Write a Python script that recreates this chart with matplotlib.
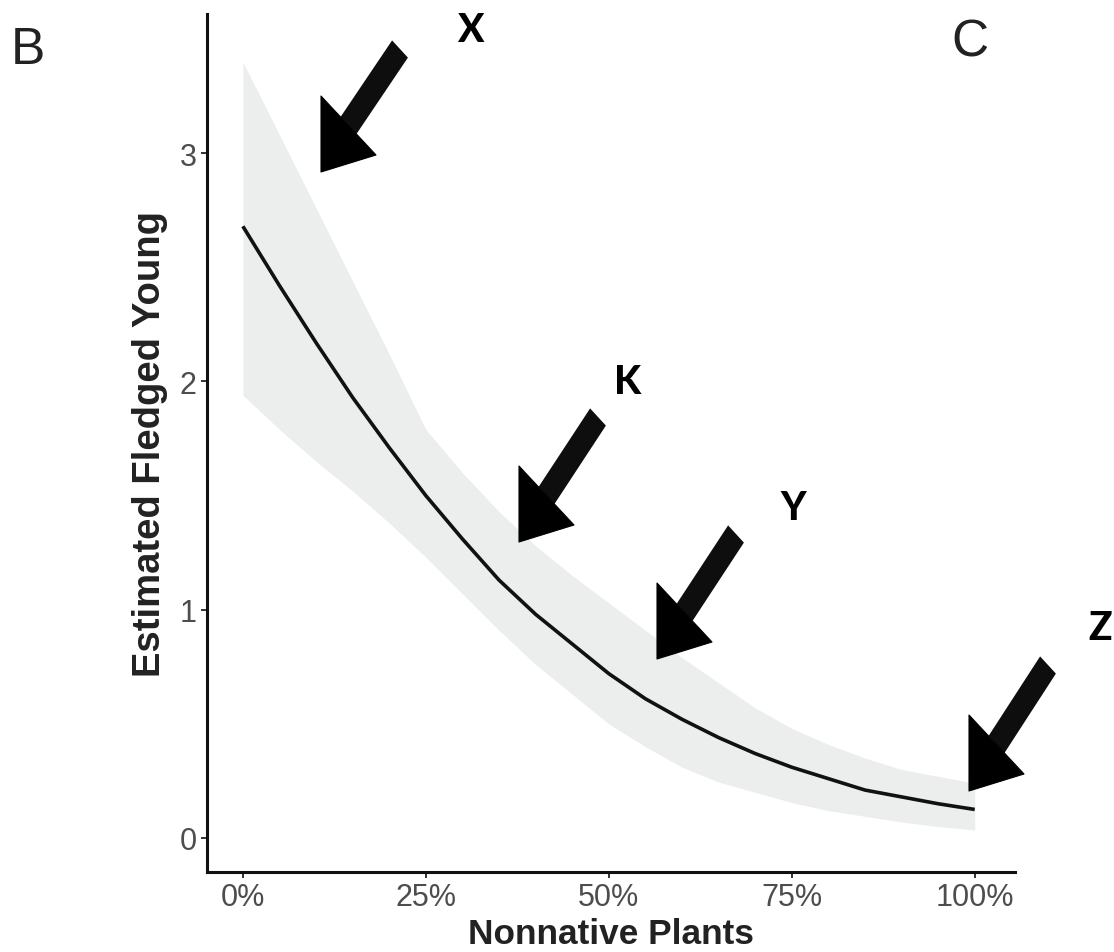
import numpy as np
import matplotlib
matplotlib.use("Agg")
import matplotlib.pyplot as plt
from matplotlib.patches import Polygon
from matplotlib.ticker import FuncFormatter

# predicted fledged young vs share of nonnative plants
nonnative = [0.0, 0.05, 0.10, 0.15, 0.20, 0.25, 0.30, 0.35, 0.40, 0.45, 0.50,
             0.55, 0.60, 0.65, 0.70, 0.75, 0.80, 0.85, 0.90, 0.95, 1.0]
fit = [2.68, 2.42, 2.17, 1.93, 1.71, 1.50, 1.31, 1.13, 0.98, 0.85, 0.72,
       0.61, 0.52, 0.44, 0.37, 0.31, 0.26, 0.21, 0.18, 0.15, 0.125]
upper = [3.40, 3.08, 2.76, 2.44, 2.12, 1.79, 1.60, 1.43, 1.28, 1.15, 1.03,
         0.91, 0.79, 0.68, 0.57, 0.48, 0.41, 0.35, 0.30, 0.27, 0.24]
lower = [1.94, 1.79, 1.65, 1.52, 1.38, 1.23, 1.07, 0.91, 0.76, 0.63, 0.50,
         0.40, 0.31, 0.245, 0.20, 0.155, 0.12, 0.095, 0.07, 0.05, 0.035]
x_ticks = [0.0, 0.25, 0.5, 0.75, 1.0]
y_ticks = [0, 1, 2, 3]

# overlaid arrow annotations, pixel positions (tail centre, tip)
arrow_labels = ["X", "K", "Y", "Z"]
arrow_tails = [(400, 50), (598, 418), (736, 535), (1048, 666)]
arrow_tips = [(321, 173), (519, 543), (657, 660), (969, 792)]
label_pos = [(470, 30), (628, 383), (793, 509), (1100, 628)]

W, H, DPI = 1114, 953, 100

fig = plt.figure(figsize=(W / DPI, H / DPI), dpi=DPI)
ax = fig.add_axes([207 / W, 1 - 873 / H, (1015 - 207) / W, (873 - 15) / H])

ax.fill_between(nonnative, lower, upper, color="#ECEDED", lw=0)
ax.plot(nonnative, fit, color="#111111", lw=2.6, solid_capstyle="butt")

ax.set_xlim(-0.049, 1.055)
ax.set_ylim(-0.149, 3.61)
ax.set_xticks(x_ticks)
ax.set_yticks(y_ticks)
ax.xaxis.set_major_formatter(FuncFormatter(lambda v, p: "%d%%" % round(v * 100)))

for s in ["top", "right"]:
    ax.spines[s].set_visible(False)
for s in ["left", "bottom"]:
    ax.spines[s].set_linewidth(2.2)
    ax.spines[s].set_color("#111111")

ax.tick_params(length=4.5, width=1.4, color="#333333", labelcolor="#4D4D4D",
               labelsize=22, pad=3)
for lab in ax.get_xticklabels() + ax.get_yticklabels():
    lab.set_fontfamily("Liberation Sans")

ax.set_xlabel("Nonnative Plants", fontsize=25.4, fontweight="bold",
              family="Liberation Sans", color="#222222", labelpad=3)
ax.set_ylabel("Estimated Fledged Young", fontsize=27.5, fontweight="bold",
              family="Liberation Sans", color="#222222", labelpad=8)


def fig_pts(pts):
    return [(x / W, 1 - y / H) for x, y in pts]


# block arrows: skewed head (one side vertical), square-ended shaft
head_a = (0, -76)
head_b = (55, -17)
half_w = (7.9, 8.6)
for (tx, ty), (hx, hy) in zip(arrow_tails, arrow_tips):
    mx = hx + (head_a[0] + head_b[0]) / 2
    my = hy + (head_a[1] + head_b[1]) / 2
    shaft = [(tx - half_w[0], ty - half_w[1]), (tx + half_w[0], ty + half_w[1]),
             (mx + half_w[0], my + half_w[1]), (mx - half_w[0], my - half_w[1])]
    head = [(hx, hy), (hx + head_a[0], hy + head_a[1]),
            (hx + head_b[0], hy + head_b[1])]
    fig.patches.append(Polygon(fig_pts(shaft), closed=True, transform=fig.transFigure,
                               facecolor="#0e0e0e", edgecolor="none"))
    fig.patches.append(Polygon(fig_pts(head), closed=True, transform=fig.transFigure,
                               facecolor="black", edgecolor="black", lw=0.8,
                               joinstyle="round"))

for lab, (lx, ly) in zip(arrow_labels, label_pos):
    fig.text(lx / W, 1 - ly / H, lab, fontsize=28, fontweight=900,
             family="Lato", ha="center", va="center", color="black")

fig.text(28 / W, 1 - 51 / H, "B", fontsize=37, family="Liberation Sans",
         ha="center", va="center", color="#222222")
fig.text(970 / W, 1 - 43 / H, "C", fontsize=37, family="Liberation Sans",
         ha="center", va="center", color="#222222")

fig.savefig("out.png", dpi=DPI)
